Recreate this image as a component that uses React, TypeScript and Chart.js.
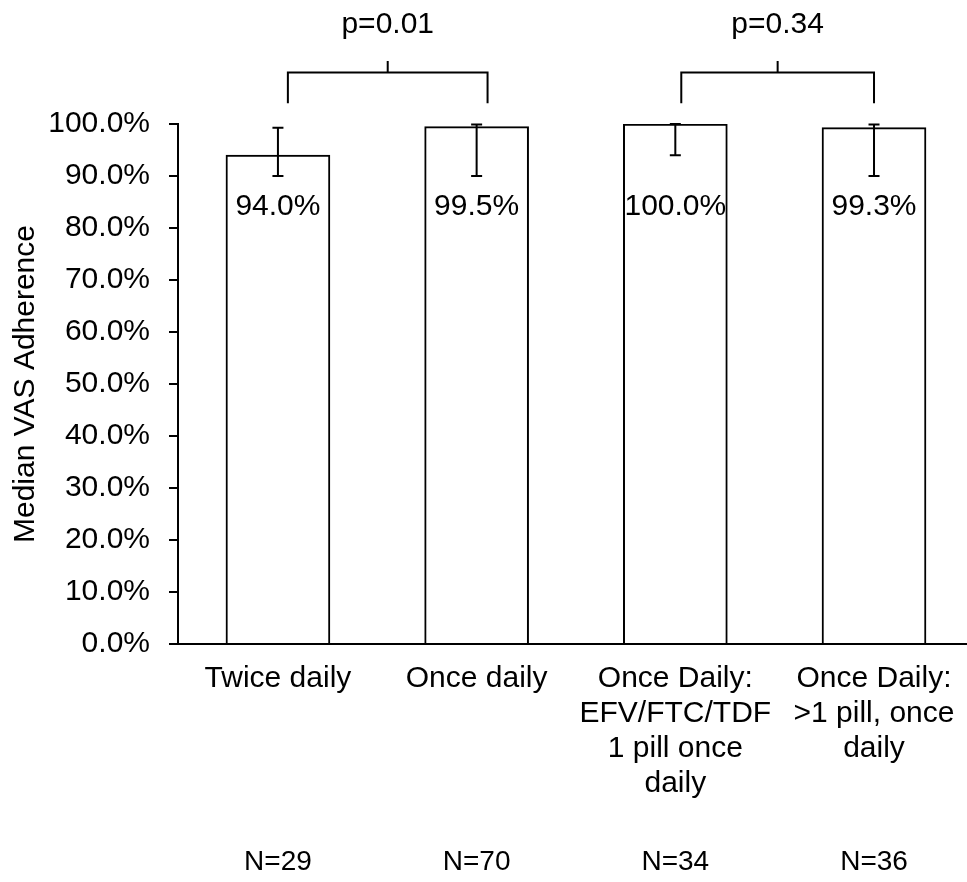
import React, { useEffect, useRef } from 'react';
import { Chart, registerables } from 'chart.js';

Chart.register(...registerables);

const categories: string[][] = [
  ['Twice daily'],
  ['Once daily'],
  ['Once Daily:', 'EFV/FTC/TDF', '1 pill once', 'daily'],
  ['Once Daily:', '>1 pill, once', 'daily'],
];
const medians = [94.0, 99.5, 100.0, 99.3];
const errLow = [90.0, 90.0, 94.0, 90.0];
const errHigh = [99.3, 99.9, 100.0, 99.9];
const valueLabels = ['94.0%', '99.5%', '100.0%', '99.3%'];
const sampleSizes = ['N=29', 'N=70', 'N=34', 'N=36'];
const yTicks = [0, 10, 20, 30, 40, 50, 60, 70, 80, 90, 100];
const comparisonFrom = [0, 2];
const comparisonTo = [1, 3];
const comparisonLabels = ['p=0.01', 'p=0.34'];

const FONT = '"Liberation Sans", Arial, sans-serif';
const INK = '#000000';

const annotations = {
  id: 'annotations',
  afterDraw(chart: any) {
    const { ctx, scales } = chart;
    const xs = scales.x;
    const ys = scales.y;
    ctx.save();
    ctx.strokeStyle = INK;
    ctx.fillStyle = INK;
    ctx.lineWidth = 2;
    ctx.lineCap = 'butt';

    // error bars
    medians.forEach((_, i) => {
      const cx = xs.getPixelForValue(i);
      const yl = ys.getPixelForValue(errLow[i]);
      const yh = ys.getPixelForValue(errHigh[i]);
      ctx.beginPath();
      ctx.moveTo(cx, yl);
      ctx.lineTo(cx, yh);
      ctx.moveTo(cx - 5.5, yl);
      ctx.lineTo(cx + 5.5, yl);
      ctx.moveTo(cx - 5.5, yh);
      ctx.lineTo(cx + 5.5, yh);
      ctx.stroke();
    });

    // value labels
    ctx.font = `30px ${FONT}`;
    ctx.textAlign = 'center';
    ctx.textBaseline = 'middle';
    valueLabels.forEach((t, i) => {
      ctx.fillText(t, xs.getPixelForValue(i), ys.getPixelForValue(84.0));
    });

    // brackets
    const nudges = [[0.05, 0.055], [0.03, 0.0]];
    comparisonLabels.forEach((t, k) => {
      const x1 = xs.getPixelForValue(comparisonFrom[k] + nudges[k][0]);
      const x2 = xs.getPixelForValue(comparisonTo[k] + nudges[k][1]);
      const yb = Math.round(ys.getPixelForValue(110)) + 0.5;
      const yleg = ys.getPixelForValue(104);
      const ytick = ys.getPixelForValue(112.1);
      const xm = (x1 + x2) / 2;
      ctx.beginPath();
      ctx.moveTo(x1, yleg);
      ctx.lineTo(x1, yb);
      ctx.lineTo(x2, yb);
      ctx.lineTo(x2, yleg);
      ctx.moveTo(xm, yb);
      ctx.lineTo(xm, ytick);
      ctx.stroke();
      ctx.fillText(t, xm, ys.getPixelForValue(119.0));
    });

    // sample sizes
    ctx.font = `28px ${FONT}`;
    sampleSizes.forEach((t, i) => {
      ctx.fillText(t, xs.getPixelForValue(i), 862);
    });
    ctx.restore();
  },
};

export default function App() {
  const ref = useRef<HTMLCanvasElement | null>(null);
  useEffect(() => {
    if (!ref.current) return;
    const chart = new Chart(ref.current, {
      type: 'bar',
      data: {
        datasets: [
          {
            data: medians.map((v, i) => ({ x: i, y: v })),
            backgroundColor: '#ffffff',
            borderColor: INK,
            borderWidth: 2,
            barThickness: 104,
          },
        ],
      },
      options: {
        animation: false,
        responsive: false,
        events: [],
        layout: { padding: { top: 124, left: 0, right: 0, bottom: 0 } },
        plugins: { legend: { display: false }, tooltip: { enabled: false } },
        scales: {
          x: {
            type: 'linear',
            offset: false,
            min: -0.503,
            max: 3.468,
            grid: { display: false, drawTicks: false, offset: false },
            border: { display: true, color: INK, width: 2 },
            afterBuildTicks: (s: any) => {
              s.ticks = categories.map((_, i) => ({ value: i }));
            },
            afterFit: (s: any) => {
              s.height = 238;
              s.paddingLeft = 0;
              s.paddingRight = 0;
            },
            ticks: {
              autoSkip: false,
              maxRotation: 0,
              minRotation: 0,
              padding: 17,
              color: INK,
              font: { family: FONT, size: 30, lineHeight: 1.17 },
              callback: (v: any) => categories[Number(v)] ?? '',
            },
          },
          y: {
            type: 'linear',
            min: 0,
            max: 100,
            afterBuildTicks: (s: any) => {
              s.ticks = yTicks.map((v) => ({ value: v }));
            },
            afterFit: (s: any) => {
              s.width = 178;
            },
            grid: {
              display: true,
              drawOnChartArea: false,
              drawTicks: true,
              tickLength: 9,
              color: INK,
              lineWidth: 2,
            },
            border: { display: true, color: INK, width: 2 },
            ticks: {
              padding: 19,
              color: INK,
              font: { family: FONT, size: 30 },
              callback: (v: any) => Number(v).toFixed(1) + '%',
            },
            title: {
              display: true,
              text: 'Median VAS Adherence',
              color: INK,
              font: { family: FONT, size: 30 },
              padding: { top: 8, bottom: 0 },
            },
          },
        },
      },
      plugins: [annotations],
    });
    return () => chart.destroy();
  }, []);
  return (
    <div style={{ position: 'fixed', left: 0, top: 0, width: 967, height: 882, background: '#fff' }}>
      <canvas ref={ref} width={967} height={882} />
    </div>
  );
}
